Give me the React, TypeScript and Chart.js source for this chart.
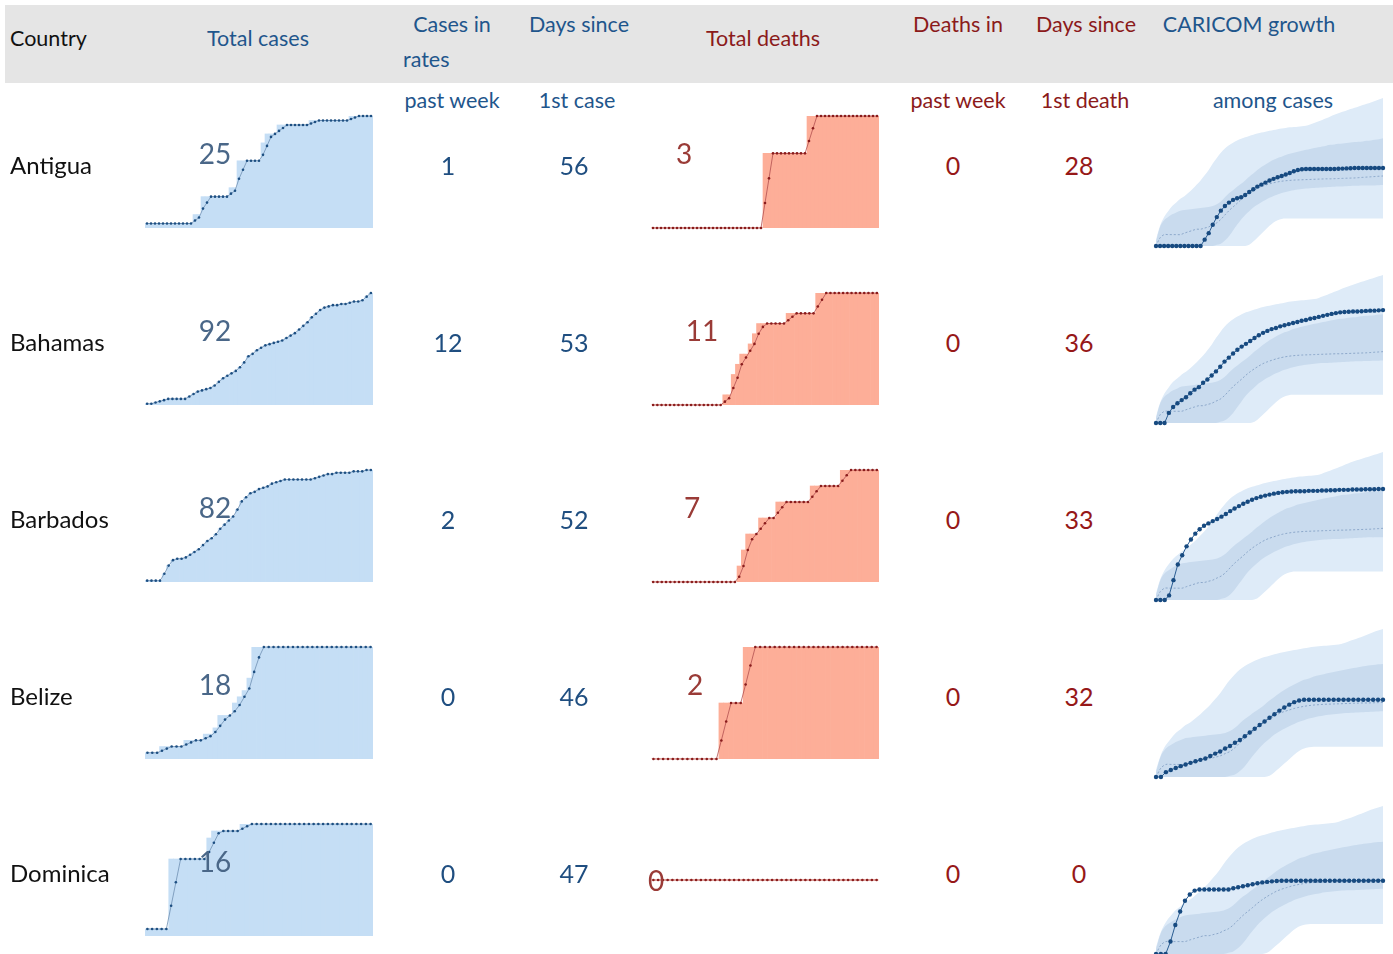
import React, { useEffect, useRef } from 'react';
import { Chart, registerables } from 'chart.js';

Chart.register(...registerables);

// ---------------- DATA ----------------
const COUNTRIES = ['Antigua', 'Bahamas', 'Barbados', 'Belize', 'Dominica'];
const CASES_PAST_WEEK = [1, 12, 2, 0, 0];
const DAYS_SINCE_FIRST_CASE = [56, 53, 52, 46, 47];
const DEATHS_PAST_WEEK = [0, 0, 0, 0, 0];
const DAYS_SINCE_FIRST_DEATH = [28, 36, 33, 32, 0];
const TOTAL_CASES = [25, 92, 82, 18, 16];
const TOTAL_DEATHS = [3, 11, 7, 2, 0];

// cumulative cases: bars (daily values) and dotted trend line
const ANTIGUA_CASES = [1, 1, 1, 1, 1, 1, 1, 1, 1, 1, 1, 1, 3, 3, 7, 7, 7, 7, 7, 7, 7, 9, 9, 15, 15, 15, 15, 15, 15, 19, 21, 21, 21, 23, 23, 23, 23, 23, 23, 23, 23, 24, 24, 24, 24, 24, 24, 24, 24, 24, 24, 25, 25, 25, 25, 25, 25];
const ANTIGUA_CASES_TREND = [1, 1, 1, 1, 1, 1, 1, 1, 1, 1, 1, 1, 1.67, 2.33, 4.33, 5.67, 7, 7, 7, 7, 7, 7.67, 8.33, 11, 13, 15, 15, 15, 15, 16.33, 18.33, 20.33, 21, 21.67, 22.33, 23, 23, 23, 23, 23, 23, 23.33, 23.67, 24, 24, 24, 24, 24, 24, 24, 24, 24.33, 24.67, 25, 25, 25, 25];
const BAHAMAS_CASES = [1, 1, 2, 3, 4, 5, 5, 5, 5, 5, 7, 9, 11, 12, 13, 14, 16, 19, 22, 24, 26, 28, 31, 35, 40, 42, 45, 47, 49, 50, 51, 52, 53, 55, 57, 59, 62, 65, 68, 72, 75, 78, 80, 81, 82, 82, 83, 83, 84, 85, 85, 86, 89, 92];
const BARBADOS_CASES = [1, 1, 1, 1, 6, 12, 16, 17, 17, 18, 20, 22, 24, 27, 30, 32, 35, 39, 42, 45, 48, 53, 59, 62, 65, 66, 68, 69, 70, 72, 73, 74, 75, 75, 75, 75, 75, 75, 75, 76, 77, 78, 79, 79, 80, 80, 80, 80, 81, 81, 81, 82, 82];
const BELIZE_CASES = [1, 1, 1, 2, 2, 2, 2, 2, 3, 3, 3, 3, 4, 4, 5, 7, 7, 7, 9, 10, 11, 13, 18, 18, 18, 18, 18, 18, 18, 18, 18, 18, 18, 18, 18, 18, 18, 18, 18, 18, 18, 18, 18, 18, 18, 18, 18];
const BELIZE_CASES_TREND = [1, 1, 1, 1.33, 1.67, 2, 2, 2, 2.33, 2.67, 3, 3, 3.33, 3.67, 4.33, 5.33, 6.33, 7, 7.67, 8.67, 10, 11.33, 14, 16.33, 18, 18, 18, 18, 18, 18, 18, 18, 18, 18, 18, 18, 18, 18, 18, 18, 18, 18, 18, 18, 18, 18, 18];
const DOMINICA_CASES = [1, 1, 1, 1, 1, 11, 11, 11, 11, 11, 11, 11, 11, 14, 15, 15, 15, 15, 15, 15, 16, 16, 16, 16, 16, 16, 16, 16, 16, 16, 16, 16, 16, 16, 16, 16, 16, 16, 16, 16, 16, 16, 16, 16, 16, 16, 16, 16];
const DOMINICA_CASES_TREND = [1, 1, 1, 1, 1, 4.33, 7.67, 11, 11, 11, 11, 11, 11, 12, 13.33, 14.67, 15, 15, 15, 15, 15.33, 15.67, 16, 16, 16, 16, 16, 16, 16, 16, 16, 16, 16, 16, 16, 16, 16, 16, 16, 16, 16, 16, 16, 16, 16, 16, 16, 16];

// cumulative deaths: bars and dotted trend line
const ANTIGUA_DEATHS = [0, 0, 0, 0, 0, 0, 0, 0, 0, 0, 0, 0, 0, 0, 0, 0, 0, 0, 0, 0, 0, 0, 0, 0, 0, 0, 0, 0, 2, 2, 2, 2, 2, 2, 2, 2, 2, 2, 2, 3, 3, 3, 3, 3, 3, 3, 3, 3, 3, 3, 3, 3, 3, 3, 3, 3, 3];
const ANTIGUA_DEATHS_TREND = [0, 0, 0, 0, 0, 0, 0, 0, 0, 0, 0, 0, 0, 0, 0, 0, 0, 0, 0, 0, 0, 0, 0, 0, 0, 0, 0, 0, 0.67, 1.33, 2, 2, 2, 2, 2, 2, 2, 2, 2, 2.33, 2.67, 3, 3, 3, 3, 3, 3, 3, 3, 3, 3, 3, 3, 3, 3, 3, 3];
const BAHAMAS_DEATHS = [0, 0, 0, 0, 0, 0, 0, 0, 0, 0, 0, 0, 0, 0, 0, 0, 0, 1, 1, 3, 4, 5, 5, 6, 7, 8, 8, 8, 8, 8, 8, 8, 9, 9, 9, 9, 9, 9, 9, 11, 11, 11, 11, 11, 11, 11, 11, 11, 11, 11, 11, 11, 11, 11];
const BAHAMAS_DEATHS_TREND = [0, 0, 0, 0, 0, 0, 0, 0, 0, 0, 0, 0, 0, 0, 0, 0, 0, 0.33, 0.67, 1.67, 2.67, 4, 4.67, 5.33, 6, 7, 7.67, 8, 8, 8, 8, 8, 8.33, 8.67, 9, 9, 9, 9, 9, 9.67, 10.33, 11, 11, 11, 11, 11, 11, 11, 11, 11, 11, 11, 11, 11];
const BARBADOS_DEATHS = [0, 0, 0, 0, 0, 0, 0, 0, 0, 0, 0, 0, 0, 0, 0, 0, 0, 0, 0, 0, 1, 2, 3, 3, 3, 4, 4, 4, 4, 5, 5, 5, 5, 5, 5, 5, 5, 6, 6, 6, 6, 6, 6, 6, 7, 7, 7, 7, 7, 7, 7, 7, 7];
const BARBADOS_DEATHS_TREND = [0, 0, 0, 0, 0, 0, 0, 0, 0, 0, 0, 0, 0, 0, 0, 0, 0, 0, 0, 0, 0.33, 1, 2, 2.67, 3, 3.33, 3.67, 4, 4, 4.33, 4.67, 5, 5, 5, 5, 5, 5, 5.33, 5.67, 6, 6, 6, 6, 6, 6.33, 6.67, 7, 7, 7, 7, 7, 7, 7];
const BELIZE_DEATHS = [0, 0, 0, 0, 0, 0, 0, 0, 0, 0, 0, 0, 0, 0, 1, 1, 1, 1, 1, 2, 2, 2, 2, 2, 2, 2, 2, 2, 2, 2, 2, 2, 2, 2, 2, 2, 2, 2, 2, 2, 2, 2, 2, 2, 2, 2, 2];
const BELIZE_DEATHS_TREND = [0, 0, 0, 0, 0, 0, 0, 0, 0, 0, 0, 0, 0, 0, 0.33, 0.67, 1, 1, 1, 1.33, 1.67, 2, 2, 2, 2, 2, 2, 2, 2, 2, 2, 2, 2, 2, 2, 2, 2, 2, 2, 2, 2, 2, 2, 2, 2, 2, 2];
const DOMINICA_DEATHS = [0, 0, 0, 0, 0, 0, 0, 0, 0, 0, 0, 0, 0, 0, 0, 0, 0, 0, 0, 0, 0, 0, 0, 0, 0, 0, 0, 0, 0, 0, 0, 0, 0, 0, 0, 0, 0, 0, 0, 0, 0, 0, 0, 0, 0, 0, 0, 0];

// growth curves (log scale, big dots)
const ANTIGUA_GROWTH = [1, 1, 1, 1, 1, 1, 1, 1, 1, 1, 1, 1, 1.3, 1.7, 2.4, 3.3, 4.3, 5.2, 6.0, 6.7, 7.2, 7.5, 8.2, 9.3, 10.4, 11.6, 12.6, 13.7, 14.9, 16, 17.1, 18, 19.1, 20.4, 21.9, 23.1, 23.8, 24, 24, 24, 24, 24, 24, 24, 24, 24.2, 24.4, 24.6, 24.8, 25, 25, 25, 25, 25, 25, 25, 25];
const BAHAMAS_GROWTH = [1, 1, 1, 1.5, 1.9, 2.2, 2.5, 2.8, 3.3, 3.8, 4.2, 5.0, 5.7, 6.7, 7.9, 9.5, 11.7, 13.7, 16.2, 18.8, 21.3, 23.8, 26.6, 30, 33.5, 37, 40, 43, 45, 48, 50, 52.5, 55, 57, 60, 62, 65, 67, 70, 73, 76, 79, 81.5, 84, 85, 86, 87, 87, 88, 89, 90, 90, 91, 92];
const BARBADOS_GROWTH = [1, 1, 1, 1.2, 2.2, 4.1, 5.9, 8.4, 11, 13.9, 16.6, 19, 20.9, 22.9, 24.8, 27.3, 30.4, 34, 37.8, 41.5, 45.5, 49.4, 53.5, 57, 60, 63, 65.5, 68, 70, 72, 73, 74, 75, 75, 75, 76, 76, 76, 77, 77, 78, 78, 79, 79, 79, 80, 80, 80, 81, 81, 81, 82, 82];
const BELIZE_GROWTH = [1, 1, 1.2, 1.3, 1.4, 1.5, 1.6, 1.7, 1.8, 1.9, 2.0, 2.2, 2.4, 2.6, 2.9, 3.2, 3.6, 4.0, 4.6, 5.3, 6.1, 7.0, 8.0, 9.2, 10.5, 12, 13.5, 15, 16.5, 17.5, 18, 18, 18, 18, 18, 18, 18, 18, 18, 18, 18, 18, 18, 18, 18, 18, 18];
const DOMINICA_GROWTH = [1, 1, 1, 1.6, 3, 5, 7.5, 9.5, 11, 11.5, 11.5, 11.5, 11.5, 11.5, 11.5, 11.5, 12, 12.5, 13, 13.5, 14, 14.5, 15, 15.3, 15.6, 15.8, 16, 16, 16, 16, 16, 16, 16, 16, 16, 16, 16, 16, 16, 16, 16, 16, 16, 16, 16, 16, 16, 16];

// CARICOM distribution of cumulative cases by day since 1st case (percentile bands)
const CARICOM_P90 = [1.3, 2.3, 3.3, 4.2, 5.2, 6.0, 7.0, 7.8, 9, 10.5, 12.5, 15, 18.5, 23, 30, 38, 47, 56, 64, 71, 78, 84, 89, 94, 99, 104, 108, 112, 116, 120, 124, 128, 131, 134, 136, 138, 140, 143, 150, 160, 170, 182, 195, 210, 225, 240, 255, 270, 285, 300, 318, 336, 355, 375, 398, 422, 450];
const CARICOM_P75 = [1.2, 2.2, 2.9, 3.3, 3.7, 4.0, 4.3, 4.4, 4.5, 4.6, 4.7, 4.8, 4.9, 5.0, 5.2, 5.6, 6.3, 7.5, 8.8, 10, 11.5, 13, 15, 17.5, 20, 23, 26, 29, 32, 35, 38, 40, 43, 45, 47, 49, 51, 53, 55, 57, 59, 61, 63, 65, 66, 68, 69, 70, 72, 73, 74, 75, 77, 78, 80, 82, 85];
const CARICOM_P50 = [1, 1.4, 1.6, 1.6, 1.6, 1.6, 1.6, 1.7, 1.8, 1.9, 2.0, 2.0, 2.1, 2.2, 2.4, 2.6, 3.0, 3.6, 4.3, 5.0, 5.8, 6.8, 7.8, 8.8, 9.8, 10.8, 11.6, 12.3, 13, 13.6, 14.1, 14.5, 14.8, 15, 15.2, 15.3, 15.4, 15.5, 15.6, 15.7, 15.8, 15.9, 16.0, 16.0, 16.1, 16.2, 16.3, 16.4, 16.5, 16.6, 16.8, 17.0, 17.2, 17.4, 17.6, 17.8, 18.0];
const CARICOM_P25 = [1, 1, 1, 1, 1, 1, 1, 1, 1, 1, 1, 1, 1, 1, 1, 1.05, 1.1, 1.25, 1.5, 1.9, 2.4, 3.0, 3.6, 4.2, 4.9, 5.5, 6.1, 6.7, 7.3, 7.9, 8.4, 8.9, 9.3, 9.7, 10, 10.3, 10.5, 10.7, 10.9, 11.0, 11.1, 11.2, 11.3, 11.4, 11.5, 11.6, 11.7, 11.8, 11.9, 12.0, 12.0, 12.1, 12.1, 12.2, 12.2, 12.3, 12.4];
const CARICOM_P10 = [1, 1, 1, 1, 1, 1, 1, 1, 1, 1, 1, 1, 1, 1, 1, 1, 1, 1, 1, 1, 1, 1, 1, 1.05, 1.2, 1.4, 1.65, 1.95, 2.3, 2.65, 2.9, 3.05, 3.1, 3.1, 3.1, 3.1, 3.1, 3.1, 3.1, 3.1, 3.1, 3.1, 3.1, 3.1, 3.1, 3.1, 3.1, 3.1, 3.1, 3.1, 3.1, 3.1, 3.1, 3.1, 3.1, 3.1, 3.1];

const CASES_SERIES = [ANTIGUA_CASES, BAHAMAS_CASES, BARBADOS_CASES, BELIZE_CASES, DOMINICA_CASES];
const CASES_TRENDS = [ANTIGUA_CASES_TREND, BAHAMAS_CASES, BARBADOS_CASES, BELIZE_CASES_TREND, DOMINICA_CASES_TREND];
const DEATHS_SERIES = [ANTIGUA_DEATHS, BAHAMAS_DEATHS, BARBADOS_DEATHS, BELIZE_DEATHS, DOMINICA_DEATHS];
const DEATHS_TRENDS = [ANTIGUA_DEATHS_TREND, BAHAMAS_DEATHS_TREND, BARBADOS_DEATHS_TREND, BELIZE_DEATHS_TREND, DOMINICA_DEATHS];
const GROWTH_SERIES = [ANTIGUA_GROWTH, BAHAMAS_GROWTH, BARBADOS_GROWTH, BELIZE_GROWTH, DOMINICA_GROWTH];

// ---------------- LAYOUT / STYLE ----------------
const FONT = 'Lato, "Open Sans", "DejaVu Sans", sans-serif';
const BLUE = '#1f568c';
const NUM_BLUE = '#1f4e80';
const RED = '#8b1a1a';
const NUM_RED = '#961818';
const ROW_PITCH = 177;
const SPARK_TOP = 116;
const SPARK_H = 112;
const GROWTH_TOP = 98;
const GROWTH_H = 148;
const DEATH_LABEL_X = [684, 702, 692, 695, 656];

function sparkConfig(bars: number[], trend: number[], barColor: string, lineColor: string, dotColor: string) {
  const labels = bars.map((_, i) => String(i));
  const max = Math.max(...bars);
  return {
    type: 'bar' as const,
    data: {
      labels,
      datasets: [
        {
          type: 'line' as const,
          data: trend,
          borderColor: lineColor,
          borderWidth: 0.8,
          pointRadius: 1.3,
          pointBackgroundColor: dotColor,
          pointBorderWidth: 0,
          clip: false,
          order: 0,
        },
        {
          type: 'bar' as const,
          data: bars,
          backgroundColor: barColor,
          borderWidth: 0,
          categoryPercentage: 1,
          barPercentage: 1,
          order: 1,
        },
      ],
    },
    options: {
      animation: false,
      responsive: false,
      maintainAspectRatio: false,
      events: [],
      layout: { autoPadding: false, padding: { top: 4, bottom: 4, left: 0, right: 0 } },
      plugins: { legend: { display: false }, tooltip: { enabled: false } },
      scales: {
        x: { display: false, offset: true },
        y: { display: false, min: max > 0 ? 0 : -1, max: max > 0 ? max : 1 },
      },
    },
  };
}

function growthConfig(values: number[]) {
  const n = values.length;
  const labels = values.map((_, i) => String(i));
  const p90 = CARICOM_P90.slice(0, n);
  const band = { pointRadius: 0, borderWidth: 0, tension: 0.35 };
  return {
    type: 'line' as const,
    data: {
      labels,
      datasets: [
        {
          data: values,
          borderColor: '#2a5d92',
          borderWidth: 1,
          pointRadius: 2.2,
          pointBackgroundColor: '#174a80',
          pointBorderWidth: 0,
          clip: false,
          fill: false,
        },
        {
          data: CARICOM_P50.slice(0, n),
          borderColor: '#7d9cc2',
          borderWidth: 0.8,
          borderDash: [2, 2],
          pointRadius: 0,
          fill: false,
          tension: 0.3,
        },
        { ...band, data: CARICOM_P75.slice(0, n), fill: '+1', backgroundColor: '#c9dbee', borderColor: '#c9dbee' },
        { ...band, data: CARICOM_P25.slice(0, n), fill: false, borderColor: '#c9dbee' },
        { ...band, data: p90, fill: '+1', backgroundColor: '#deebf8', borderColor: '#deebf8' },
        { ...band, data: CARICOM_P10.slice(0, n), fill: false, borderColor: '#deebf8' },
      ],
    },
    options: {
      animation: false,
      responsive: false,
      maintainAspectRatio: false,
      events: [],
      layout: { autoPadding: false, padding: { top: 5, bottom: 7, left: 6, right: 7 } },
      plugins: { legend: { display: false }, tooltip: { enabled: false } },
      scales: {
        x: { display: false, offset: false },
        y: { display: false, type: 'logarithmic' as const, min: 1, max: Math.max(...p90) },
      },
    },
  };
}

function ChartBox({ left, top, width, height, make }: { left: number; top: number; width: number; height: number; make: () => any }) {
  const ref = useRef<HTMLCanvasElement | null>(null);
  useEffect(() => {
    if (!ref.current) return;
    const chart = new Chart(ref.current, make());
    return () => chart.destroy();
  }, []);
  return (
    <canvas
      ref={ref}
      width={width}
      height={height}
      style={{ position: 'absolute', left, top, width, height }}
    />
  );
}

function Txt({ x, y, color, size, children, align = 'center' }: { x: number; y: number; color: string; size: number; children: React.ReactNode; align?: 'center' | 'left' }) {
  return (
    <div
      style={{
        position: 'absolute',
        left: x,
        top: y,
        transform: align === 'center' ? 'translate(-50%, -50%)' : 'translate(0, -50%)',
        color,
        fontSize: size,
        fontFamily: FONT,
        lineHeight: 1,
        whiteSpace: 'nowrap',
      }}
    >
      {children}
    </div>
  );
}

export default function App() {
  const H = 21.5;
  return (
    <div style={{ position: 'fixed', left: 0, top: 0, width: 1393, height: 954, background: '#fff', overflow: 'hidden' }}>
      <div style={{ position: 'absolute', left: 5, top: 5, width: 1388, height: 78, background: '#e5e5e5' }} />
      <Txt x={10} y={39} color="#111" size={H} align="left">Country</Txt>
      <Txt x={258} y={39} color={BLUE} size={H}>Total cases</Txt>
      <Txt x={452} y={25} color={BLUE} size={H}>Cases in</Txt>
      <Txt x={403} y={60} color={BLUE} size={H} align="left">rates</Txt>
      <Txt x={452} y={101} color={BLUE} size={H}>past week</Txt>
      <Txt x={579} y={25} color={BLUE} size={H}>Days since</Txt>
      <Txt x={577} y={101} color={BLUE} size={H}>1st case</Txt>
      <Txt x={763} y={39} color={RED} size={H}>Total deaths</Txt>
      <Txt x={958} y={25} color={RED} size={H}>Deaths in</Txt>
      <Txt x={958} y={101} color={RED} size={H}>past week</Txt>
      <Txt x={1086} y={25} color={RED} size={H}>Days since</Txt>
      <Txt x={1085} y={101} color={RED} size={H}>1st death</Txt>
      <Txt x={1249} y={25} color={BLUE} size={H}>CARICOM growth</Txt>
      <Txt x={1273} y={101} color={BLUE} size={H}>among cases</Txt>

      {COUNTRIES.map((name, r) => {
        const top = SPARK_TOP + r * ROW_PITCH;
        const gTop = GROWTH_TOP + r * ROW_PITCH;
        const cy = 165 + r * ROW_PITCH;
        const deathMax = TOTAL_DEATHS[r];
        return (
          <React.Fragment key={name}>
            <ChartBox
              left={1150}
              top={gTop - 5}
              width={240}
              height={GROWTH_H + 12}
              make={() => growthConfig(GROWTH_SERIES[r])}
            />
            <ChartBox
              left={145}
              top={top - 4}
              width={228}
              height={SPARK_H + 8}
              make={() => sparkConfig(CASES_SERIES[r], CASES_TRENDS[r], '#c5def5', '#6f8fb3', '#1d4f82')}
            />
            <ChartBox
              left={651}
              top={top - 4}
              width={228}
              height={SPARK_H + 8}
              make={() => sparkConfig(DEATHS_SERIES[r], DEATHS_TRENDS[r], '#fdae98', '#b24f4f', '#8a1c1c')}
            />
            <Txt x={215} y={top + 37} color="#4a6788" size={28}>{TOTAL_CASES[r]}</Txt>
            <Txt x={DEATH_LABEL_X[r]} y={deathMax > 0 ? top + 37 : top + SPARK_H / 2} color="#9a3b37" size={28}>{TOTAL_DEATHS[r]}</Txt>
            <Txt x={10} y={cy} color="#111" size={24} align="left">{name}</Txt>
            <Txt x={448} y={cy} color={NUM_BLUE} size={25}>{CASES_PAST_WEEK[r]}</Txt>
            <Txt x={574} y={cy} color={NUM_BLUE} size={25}>{DAYS_SINCE_FIRST_CASE[r]}</Txt>
            <Txt x={953} y={cy} color={NUM_RED} size={25}>{DEATHS_PAST_WEEK[r]}</Txt>
            <Txt x={1079} y={cy} color={NUM_RED} size={25}>{DAYS_SINCE_FIRST_DEATH[r]}</Txt>
          </React.Fragment>
        );
      })}
    </div>
  );
}
